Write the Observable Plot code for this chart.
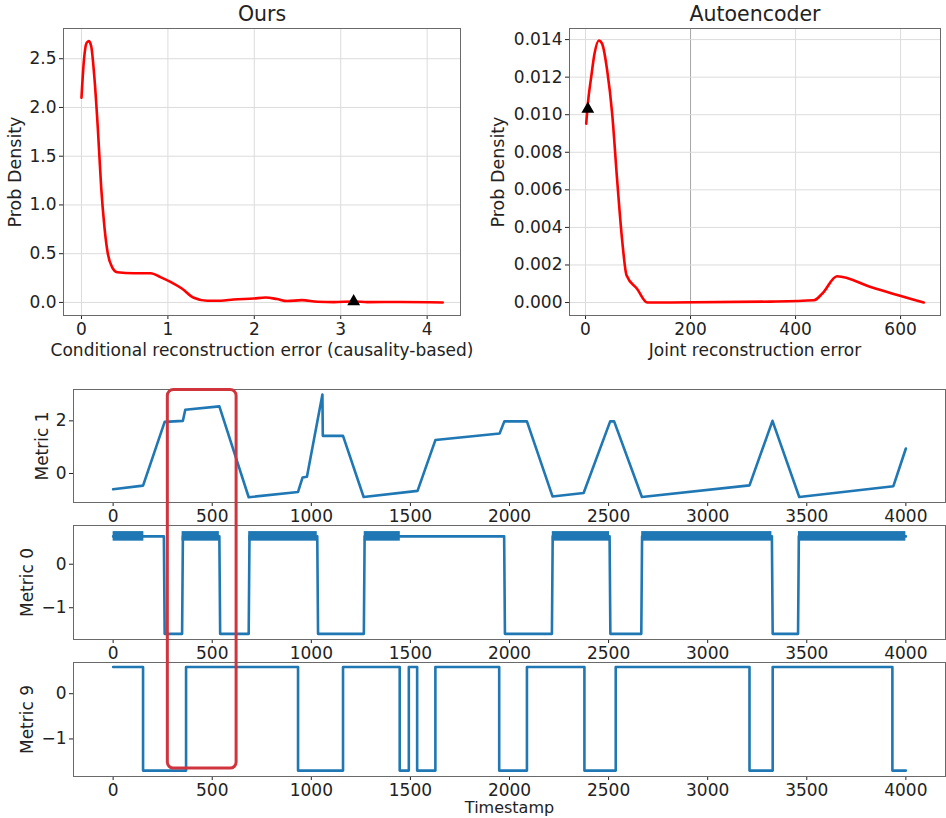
<!DOCTYPE html>
<html>
<head>
<meta charset="utf-8">
<script src="https://cdn.jsdelivr.net/npm/d3@7"></script>
<script src="https://cdn.jsdelivr.net/npm/@observablehq/plot@0.6"></script>
<style>
  html, body { margin: 0; padding: 0; background: white; }
  #fig { position: relative; width: 946px; height: 818px; overflow: hidden; font-family: "DejaVu Sans", sans-serif; }
  #fig > svg { position: absolute; }
</style>
</head>
<body>
<div id="fig"></div>
<script>
// ---------------- data ----------------
// "Ours" density curve
const oursX = [0, 0.027, 0.058, 0.085, 0.112, 0.15, 0.189, 0.228, 0.266, 0.305, 0.355, 0.413, 0.606, 0.80, 0.914, 1.03, 1.165, 1.30, 1.454, 1.61, 1.76, 1.99, 2.13, 2.26, 2.38, 2.55, 2.73, 2.92, 3.15, 3.31, 3.69, 4.18];
const oursY = [2.10, 2.47, 2.66, 2.68, 2.63, 2.30, 1.79, 1.18, 0.77, 0.50, 0.36, 0.31, 0.30, 0.30, 0.26, 0.21, 0.14, 0.048, 0.017, 0.017, 0.03, 0.04, 0.05, 0.035, 0.014, 0.024, 0.007, 0.003, 0.01, 0.003, 0.005, 0.0];
const oursMarker = {x: 3.15, y: 0.01};
const oursXTicks = [0, 1, 2, 3, 4];
const oursYTicks = [0, 0.5, 1.0, 1.5, 2.0, 2.5];

// "Autoencoder" density curve
const aeX = [1.3, 4.4, 10.8, 17.1, 25.4, 31.7, 41.3, 50.8, 60.3, 69.8, 78.1, 98.4, 117.5, 162, 352, 435, 451, 479, 543, 644];
const aeY = [0.00952, 0.01058, 0.0120, 0.01324, 0.01395, 0.01377, 0.01235, 0.01005, 0.0065, 0.00331, 0.00145, 0.00072, 0.0, 0.0, 0.00005, 0.00012, 0.00048, 0.0014, 0.00083, 0.0];
const aeMarker = {x: 4.4, y: 0.0103};
const aeXTicks = [0, 200, 400, 600];
const aeYTicks = [0, 0.002, 0.004, 0.006, 0.008, 0.010, 0.012, 0.014];

// Time series
const timeTicks = [0, 500, 1000, 1500, 2000, 2500, 3000, 3500, 4000];

const m1T = [0, 151, 260, 352, 364, 536, 684, 933, 956, 978, 1056, 1058, 1160, 1264, 1536, 1626, 1950, 1974, 2088, 2217, 2374, 2508, 2528, 2668, 3211, 3327, 3462, 3937, 4000];
const m1V = [-0.60, -0.46, 1.96, 2.00, 2.42, 2.55, -0.90, -0.70, -0.15, -0.12, 3.00, 1.43, 1.43, -0.89, -0.66, 1.27, 1.52, 1.98, 1.98, -0.87, -0.74, 1.98, 1.98, -0.89, -0.45, 2.00, -0.89, -0.48, 0.95];

const m0T = [0, 155, 256, 260, 348, 352, 536, 540, 684, 688, 1030, 1034, 1265, 1269, 1973, 1977, 2214, 2218, 2505, 2509, 2665, 2669, 3324, 3328, 3456, 3460, 4000];
const m0V = [0.64, 0.64, 0.64, -1.60, -1.60, 0.64, 0.64, -1.60, -1.60, 0.64, 0.64, -1.60, -1.60, 0.64, 0.64, -1.60, -1.60, 0.64, 0.64, -1.60, -1.60, 0.64, 0.64, -1.60, -1.60, 0.64, 0.64];
// noisy stretches of Metric 0 (start, end) and their band
const m0NoiseStart = [0, 348, 684, 1267, 2216, 2667, 3458];
const m0NoiseEnd = [155, 536, 1030, 1449, 2505, 3324, 4000];
const m0NoiseLo = 0.53;
const m0NoiseHi = 0.75;

const m9T = [0, 151, 368, 933, 1160, 1446, 1492, 1534, 1626, 1948, 2088, 2378, 2536, 3211, 3328, 3932, 4000];
const m9V = [0.59, -1.70, 0.59, -1.70, 0.59, -1.70, 0.59, -1.70, 0.59, -1.70, 0.59, -1.70, 0.59, -1.70, 0.59, -1.70, -1.70];

// highlighted window (timestamps)
const highlight = [276, 623];

// ---------------- build ----------------
const ours = oursX.map((x, i) => ({x, y: oursY[i]}));
const ae = aeX.map((x, i) => ({x, y: aeY[i]}));
const m1 = m1T.map((t, i) => ({t, v: m1V[i]}));
const m0 = m0T.map((t, i) => ({t, v: m0V[i]}));
const m0Noise = m0NoiseStart.map((s, i) => ({s, e: m0NoiseEnd[i]}));
const m9 = m9T.map((t, i) => ({t, v: m9V[i]}));

const FRAME = "#6a6a6a";
const GRID = "#dcdcdc";
const BLUE = "#1f77b4";
const baseStyle = {fontFamily: "DejaVu Sans", fontSize: "17px", color: "#222", background: "none", overflow: "visible"};
const axisOpts = {tickSize: 4, tickPadding: 3, label: null};
const C = {textAnchor: "middle", lineAnchor: "middle"};

const fig = document.getElementById("fig");
function place(svg, left, top) {
  svg.style.left = left + "px";
  svg.style.top = top + "px";
  fig.appendChild(svg);
  return svg;
}

// Autoencoder
const pAE = Plot.plot({
  width: 476, height: 360,
  marginLeft: 99, marginRight: 6, marginTop: 28, marginBottom: 45,
  style: baseStyle,
  x: {...axisOpts, domain: [-30.5, 676], ticks: aeXTicks, tickFormat: "d"},
  y: {...axisOpts, domain: [-0.00069, 0.01459], ticks: aeYTicks, tickFormat: ".3f"},
  marks: [
    Plot.ruleX(aeXTicks, {stroke: d => d === 200 ? "#a8a8a8" : GRID}),
    Plot.ruleY(aeYTicks, {stroke: GRID}),
    Plot.line(ae, {x: "x", y: "y", stroke: "red", strokeWidth: 2.6, curve: "monotone-x"}),
    Plot.dot([aeMarker], {x: "x", y: "y", symbol: "triangle", fill: "black", stroke: "black", r: 3.8}),
    Plot.frame({stroke: FRAME}),
    Plot.text(["Autoencoder"], {...C, text: d => d, frameAnchor: "top", dy: -14, fontSize: 20.5}),
    Plot.text(["Joint reconstruction error"], {...C, text: d => d, frameAnchor: "bottom", dy: 35}),
    Plot.text(["Prob Density"], {...C, text: d => d, frameAnchor: "left", dx: -71, rotate: -90, fontSize: 17.5})
  ]
});
place(pAE, 470, 0);

// Ours
const pOurs = Plot.plot({
  width: 470, height: 360,
  marginLeft: 63, marginRight: 10, marginTop: 28, marginBottom: 45,
  style: baseStyle,
  x: {...axisOpts, domain: [-0.208, 4.386], ticks: oursXTicks, tickFormat: "d"},
  y: {...axisOpts, domain: [-0.134, 2.81], ticks: oursYTicks, tickFormat: ".1f"},
  marks: [
    Plot.ruleX(oursXTicks, {stroke: GRID}),
    Plot.ruleY(oursYTicks, {stroke: GRID}),
    Plot.line(ours, {x: "x", y: "y", stroke: "red", strokeWidth: 2.6, curve: "monotone-x"}),
    Plot.dot([oursMarker], {x: "x", y: "y", symbol: "triangle", fill: "black", stroke: "black", r: 3.8}),
    Plot.frame({stroke: FRAME}),
    Plot.text(["Ours"], {...C, text: d => d, frameAnchor: "top", dy: -14, fontSize: 20.5}),
    Plot.text(["Conditional reconstruction error (causality-based)"], {...C, text: d => d, frameAnchor: "bottom", dy: 35}),
    Plot.text(["Prob Density"], {...C, text: d => d, frameAnchor: "left", dx: -48, rotate: -90, fontSize: 17.5})
  ]
});
place(pOurs, 0, 0);

const timeX = {...axisOpts, domain: [-200, 4200], ticks: timeTicks, tickFormat: "d"};

// Metric 1
const p1 = Plot.plot({
  width: 946, height: 145,
  marginLeft: 73, marginRight: 1, marginTop: 9, marginBottom: 23,
  style: baseStyle,
  x: timeX,
  y: {...axisOpts, domain: [-1.10, 3.19], ticks: [0, 2], tickFormat: "d"},
  marks: [
    Plot.line(m1, {x: "t", y: "v", stroke: BLUE, strokeWidth: 2.6}),
    Plot.frame({stroke: FRAME}),
    Plot.text(["Metric 1"], {...C, text: d => d, frameAnchor: "left", dx: -31, rotate: -90})
  ]
});
place(p1, 0, 380);

// Metric 0
const p0 = Plot.plot({
  width: 946, height: 145,
  marginLeft: 73, marginRight: 1, marginTop: 10, marginBottom: 21,
  style: baseStyle,
  x: timeX,
  y: {...axisOpts, domain: [-1.73, 0.89], ticks: [-1, 0], tickFormat: "d"},
  marks: [
    Plot.rect(m0Noise, {x1: "s", x2: "e", y1: m0NoiseLo, y2: m0NoiseHi, fill: BLUE}),
    Plot.line(m0, {x: "t", y: "v", stroke: BLUE, strokeWidth: 2.6}),
    Plot.frame({stroke: FRAME}),
    Plot.text(["Metric 0"], {...C, text: d => d, frameAnchor: "left", dx: -46, rotate: -90})
  ]
});
place(p0, 0, 515);

// Metric 9
const p9 = Plot.plot({
  width: 946, height: 168,
  marginLeft: 73, marginRight: 1, marginTop: 12, marginBottom: 42,
  style: baseStyle,
  x: timeX,
  y: {...axisOpts, domain: [-1.83, 0.69], ticks: [-1, 0], tickFormat: "d"},
  marks: [
    Plot.line(m9, {x: "t", y: "v", stroke: BLUE, strokeWidth: 2.6, curve: "step-after"}),
    Plot.frame({stroke: FRAME}),
    Plot.text(["Metric 9"], {...C, text: d => d, frameAnchor: "left", dx: -46, rotate: -90}),
    Plot.text(["Timestamp"], {...C, text: d => d, frameAnchor: "bottom", dy: 31.5, fontSize: 16})
  ]
});
place(p9, 0, 650);

// Highlight box spanning the three time-series panels
const sx = p1.scale("x");
const x1 = sx.apply(highlight[0]);
const x2 = sx.apply(highlight[1]);
const yTop = 380 + p1.scale("y").apply(p1.scale("y").domain[1]) + 0.5;
const yBot = 650 + p9.scale("y").apply(-1.655);
const ov = d3.create("svg")
  .attr("width", 946).attr("height", 818)
  .style("left", "0px").style("top", "0px").style("pointer-events", "none");
ov.append("rect")
  .attr("x", x1).attr("y", yTop)
  .attr("width", x2 - x1).attr("height", yBot - yTop)
  .attr("rx", 6).attr("ry", 6)
  .attr("fill", "none").attr("stroke", "#d0343c").attr("stroke-width", 3);
fig.appendChild(ov.node());
</script>
</body>
</html>
